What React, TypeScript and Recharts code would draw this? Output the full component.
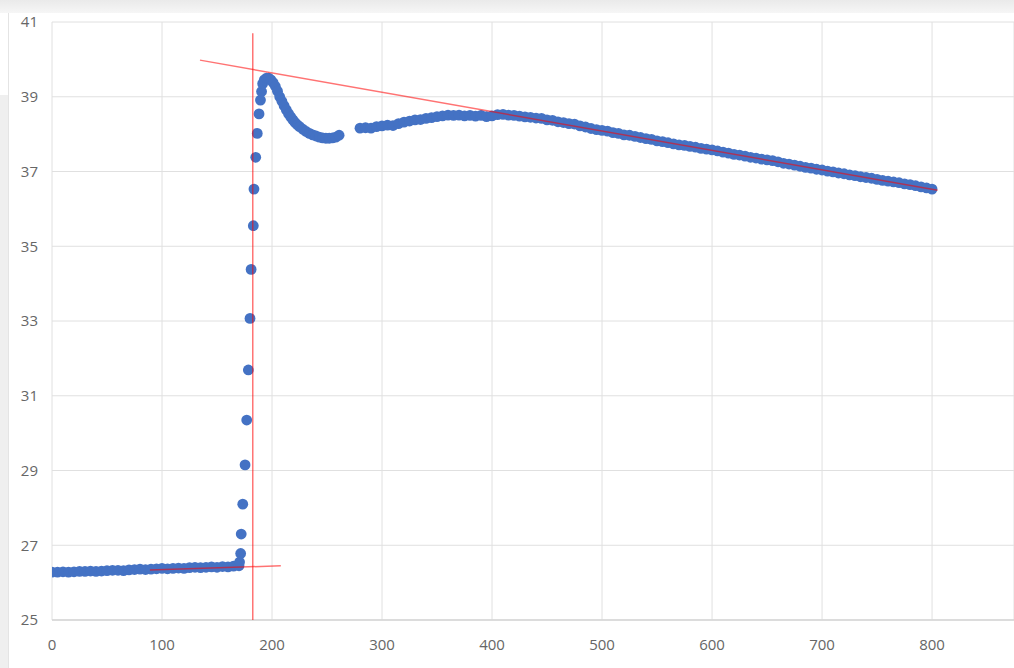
import React from 'react';
import {
  ScatterChart,
  Scatter,
  XAxis,
  YAxis,
  CartesianGrid,
  ReferenceLine,
} from 'recharts';

// baseline before the jump, one reading every 5 s from t = 0
const baseStart = 0;
const baseStep = 5;
const baseTemps = [
  26.28, 26.28, 26.29, 26.28, 26.29, 26.3, 26.3, 26.31, 26.3, 26.31, 26.32, 26.33,
  26.33, 26.32, 26.34, 26.35, 26.36, 26.35, 26.36, 26.37, 26.38, 26.37, 26.38, 26.39,
  26.38, 26.4, 26.41, 26.4, 26.41, 26.42, 26.41, 26.43, 26.42, 26.44, 26.45,
];

// the steep rise, read point by point
const riseTimes = [170.5, 171.5, 172, 173.4, 175.5, 177, 178.5, 180, 181, 183, 183.6, 185.2, 186.6, 188.2, 189.5];
const riseTemps = [26.55, 26.78, 27.3, 28.1, 29.15, 30.35, 31.69, 33.07, 34.38, 35.55, 36.53, 37.38, 38.02, 38.54, 38.91];

// overshoot and settle
const peakTimes = [
  190.5, 191.5, 193, 195, 197, 199, 201, 203, 205, 207, 209, 211, 213, 215, 217, 219,
  221, 223, 225, 228, 231, 234, 237, 240, 243, 246, 249, 252, 255, 258, 261,
];
const peakTemps = [
  39.14, 39.35, 39.45, 39.5, 39.5, 39.45, 39.38, 39.28, 39.15, 39.0, 38.88, 38.76, 38.65,
  38.55, 38.46, 38.38, 38.31, 38.25, 38.2, 38.13, 38.07, 38.02, 37.98, 37.95, 37.92, 37.9,
  37.89, 37.89, 37.9, 37.92, 37.97,
];

// slow cooling, one reading every 5 s from t = 280
const coolStart = 280;
const coolStep = 5;
const coolTemps = [
  38.16, 38.17, 38.16, 38.2, 38.22, 38.24, 38.23, 38.28, 38.32, 38.35, 38.38, 38.39,
  38.42, 38.44, 38.47, 38.49, 38.51, 38.5, 38.51, 38.49, 38.5, 38.48, 38.5, 38.47,
  38.49, 38.52, 38.53, 38.51, 38.5, 38.48, 38.46, 38.45, 38.43, 38.42, 38.38, 38.37,
  38.33, 38.31, 38.28, 38.27, 38.22, 38.19, 38.15, 38.12, 38.1, 38.08, 38.04, 38.02,
  37.98, 37.97, 37.94, 37.91, 37.88, 37.86, 37.82, 37.8, 37.77, 37.74, 37.71, 37.7,
  37.67, 37.65, 37.62, 37.6, 37.58, 37.55, 37.52, 37.49, 37.46, 37.44, 37.41, 37.38,
  37.36, 37.33, 37.31, 37.29, 37.26, 37.22, 37.2, 37.17, 37.14, 37.11, 37.09, 37.06,
  37.04, 37.01, 36.99, 36.96, 36.94, 36.91, 36.89, 36.86, 36.84, 36.82, 36.79, 36.76,
  36.74, 36.72, 36.7, 36.67, 36.65, 36.62, 36.59, 36.56, 36.53,
];

const xTicks = [0, 100, 200, 300, 400, 500, 600, 700, 800];
const yTicks = [25, 27, 29, 31, 33, 35, 37, 39, 41];
const xMax = 874.5;

// hand-drawn construction lines
const preTrend = [{ x: 89, y: 26.34 }, { x: 208, y: 26.45 }];
const onsetLine = [{ x: 182.5, y: 25 }, { x: 182.5, y: 40.7 }];
const coolTrend = [{ x: 134.5, y: 39.98 }, { x: 805, y: 36.5 }];

const points = [
  ...baseTemps.map((t, i) => ({ x: baseStart + i * baseStep, y: t })),
  ...riseTimes.map((x, i) => ({ x, y: riseTemps[i] })),
  ...peakTimes.map((x, i) => ({ x, y: peakTemps[i] })),
  ...coolTemps.map((t, i) => ({ x: coolStart + i * coolStep, y: t })),
];

const Dot = (props: any) => <circle cx={props.cx} cy={props.cy} r={5.4} fill="#4472C4" />;

const tickStyle = { fill: '#666', fontSize: 15 };
const redLine = { stroke: '#ff0000', strokeOpacity: 0.55, strokeWidth: 1.5, zIndex: 2000 };

export default function App() {
  return (
    <div
      style={{
        position: 'fixed',
        top: 0,
        left: 0,
        width: 1014,
        height: 668,
        overflow: 'hidden',
        background: '#fff',
        fontFamily: '"Open Sans", sans-serif',
      }}
    >
      <div style={{ position: 'absolute', top: 0, left: 0, right: 0, height: 13, background: 'linear-gradient(#eaeaea, #f6f6f6)' }} />
      <div style={{ position: 'absolute', top: 95, left: 0, width: 8, bottom: 0, background: '#efefef' }} />
      <div style={{ position: 'absolute', top: 13, left: 8, width: 1, bottom: 0, background: '#e4e4e4' }} />
      <div style={{ position: 'absolute', top: 0, left: 0 }}>
        <ScatterChart width={1014} height={668} margin={{ top: 22, right: 0, bottom: 8, left: 12 }}>
          <CartesianGrid stroke="#e0e0e0" />
          <XAxis
            type="number"
            dataKey="x"
            domain={[0, xMax]}
            ticks={xTicks}
            allowDataOverflow
            height={40}
            tickLine={false}
            tickSize={0}
            tickMargin={19}
            axisLine={{ stroke: '#d6d6d6', strokeWidth: 1.5 }}
            tick={tickStyle}
          />
          <YAxis
            type="number"
            dataKey="y"
            domain={[25, 41]}
            ticks={yTicks}
            allowDataOverflow
            width={40}
            tickLine={false}
            tickSize={0}
            tickMargin={14}
            axisLine={false}
            tick={tickStyle}
          />
          <Scatter data={points} shape={Dot} isAnimationActive={false} />
          <ReferenceLine segment={preTrend} {...redLine} />
          <ReferenceLine segment={onsetLine} {...redLine} />
          <ReferenceLine segment={coolTrend} {...redLine} />
        </ScatterChart>
      </div>
    </div>
  );
}
